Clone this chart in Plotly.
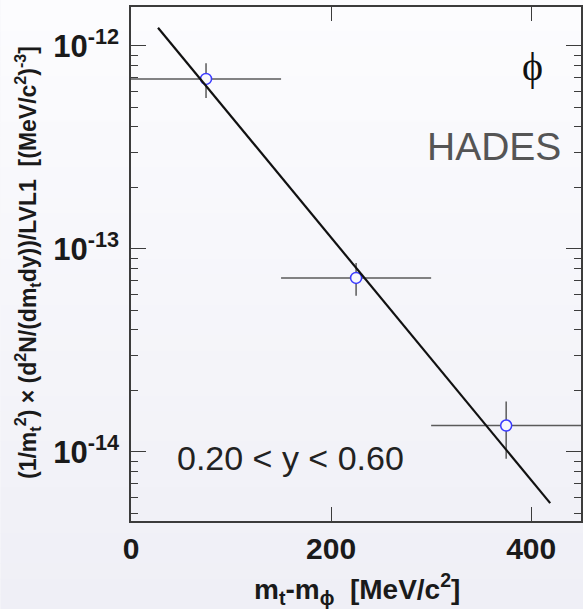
import plotly.graph_objects as go

# phi transverse-mass spectrum in the rapidity window 0.20 < y < 0.60
mt_center = [75, 225, 375]          # m_t - m_phi bin centres [MeV/c^2]
mt_half_width = [75, 75, 75]         # half bin width [MeV/c^2]
yield_val = [6.88e-13, 7.2e-14, 1.35e-14]
yield_err = [1.33e-13, 1.32e-14, 4.25e-15]

# exponential (Boltzmann) fit, a straight line on the log scale
fit_mt = [27, 419]
fit_yield = [1.23e-12, 5.6e-15]

x_tick_vals = [0, 200, 400]
y_tick_vals = [1e-14, 1e-13, 1e-12]
y_tick_text = ["10<sup>-14</sup>", "10<sup>-13</sup>", "10<sup>-12</sup>"]
y_minor_vals = [k * d for d in (1e-15, 1e-14, 1e-13, 1e-12) for k in range(2, 10)]

x_range = [0, 449.8]
y_range = [-14.34, -11.808]

W, H = 583, 609
M_L, M_R, M_T, M_B = 131, 0, 7, 88

AXIS_COL = "#3c3c3c"
FONT = "Liberation Sans, Arial, sans-serif"

fig = go.Figure()

# data points: hollow circles whose interior hides the error-bar cross
fig.add_trace(go.Scatter(
    x=mt_center, y=yield_val, mode="markers",
    marker=dict(symbol="circle", size=11, color="#f8f8fb",
                line=dict(width=1.5, color="#3b3bff")),
    error_x=dict(type="data", array=mt_half_width, color="#5a5a5a", thickness=1.5, width=0),
    error_y=dict(type="data", array=yield_err, color="#5a5a5a", thickness=1.5, width=0),
    showlegend=False,
))

# fit drawn on top of the points
fig.add_trace(go.Scatter(
    x=fit_mt, y=fit_yield, mode="lines",
    line=dict(color="#111111", width=2.2),
    hoverinfo="skip", showlegend=False,
))

# soft vertical background gradient over the whole canvas
top_rgb = (252, 252, 254)
bot_rgb = (239, 239, 246)
n_bands = 40
px0 = -M_L / (W - M_L - M_R)
px1 = 1 + M_R / (W - M_L - M_R) + 0.01
ph = H - M_T - M_B
py_top = 1 + M_T / ph
py_bot = -M_B / ph
shapes = []
for i in range(n_bands):
    f = i / (n_bands - 1)
    c = tuple(round(top_rgb[j] + (bot_rgb[j] - top_rgb[j]) * f) for j in range(3))
    y1 = py_top - (py_top - py_bot) * i / n_bands
    y0 = py_top - (py_top - py_bot) * (i + 1) / n_bands
    shapes.append(dict(type="rect", xref="paper", yref="paper", x0=px0, x1=px1,
                       y0=y0 - 0.002, y1=y1, layer="below",
                       fillcolor="rgb(%d,%d,%d)" % c, line=dict(width=0)))

annotations = [
    dict(text="ϕ", xref="paper", yref="paper", x=0.8916, y=0.885, showarrow=False,
         font=dict(family="Liberation Serif, Times New Roman, serif", size=40, color="#111111"),
         xanchor="center", yanchor="middle"),
    dict(text="HADES", xref="paper", yref="paper", x=0.8075, y=0.7286, showarrow=False,
         font=dict(family=FONT, size=39, color="#555555"),
         xanchor="center", yanchor="middle"),
    dict(text="0.20 &lt; y &lt; 0.60", xref="paper", yref="paper", x=0.354, y=0.122,
         showarrow=False, font=dict(family=FONT, size=34, color="#222222"),
         xanchor="center", yanchor="middle"),
    dict(text="<b>m<sub>t</sub>-m<sub>ϕ</sub>  [MeV/c<sup>2</sup>]</b>", xref="paper", yref="paper",
         x=0.502, y=0, yshift=-68, showarrow=False,
         font=dict(family=FONT, size=28, color="#1a1a1a"),
         xanchor="center", yanchor="middle"),
    dict(text="<b>(1/m<sub>t</sub><sup>2</sup>) × (d<sup>2</sup>N/(dm<sub>t</sub>dy))/LVL1  "
              "[(MeV/c<sup>2</sup>)<sup>-3</sup>]</b>",
         xref="paper", yref="paper", x=0, xshift=-104, y=0.502, textangle=-90,
         showarrow=False, font=dict(family=FONT, size=23, color="#1a1a1a"),
         xanchor="center", yanchor="middle"),
]

fig.update_layout(
    width=W, height=H,
    margin=dict(l=M_L, r=M_R, t=M_T, b=M_B, pad=0),
    paper_bgcolor="#f6f6fa",
    plot_bgcolor="rgba(0,0,0,0)",
    shapes=shapes,
    annotations=annotations,
    showlegend=False,
)

fig.update_xaxes(
    range=x_range, showgrid=False, zeroline=False,
    showline=True, linecolor=AXIS_COL, linewidth=1.5, mirror="ticks",
    ticks="inside", ticklen=14, tickwidth=1.3, tickcolor=AXIS_COL,
    tickvals=x_tick_vals, ticktext=[str(v) for v in x_tick_vals],
    tickfont=dict(family=FONT, size=30, color="#1a1a1a", weight="bold"),
    ticklabelstandoff=0,
)
fig.update_yaxes(
    type="log", range=y_range, showgrid=False, zeroline=False,
    showline=True, linecolor=AXIS_COL, linewidth=1.5, mirror="ticks",
    ticks="inside", ticklen=15, tickwidth=1.3, tickcolor=AXIS_COL,
    tickvals=y_tick_vals, ticktext=y_tick_text,
    tickfont=dict(family=FONT, size=31, color="#1a1a1a", weight="bold"),
    ticklabelstandoff=4,
    minor=dict(ticks="inside", ticklen=7, tickwidth=1.3, tickcolor=AXIS_COL,
               tickvals=y_minor_vals, showgrid=False),
)

fig.write_html("out.html")
